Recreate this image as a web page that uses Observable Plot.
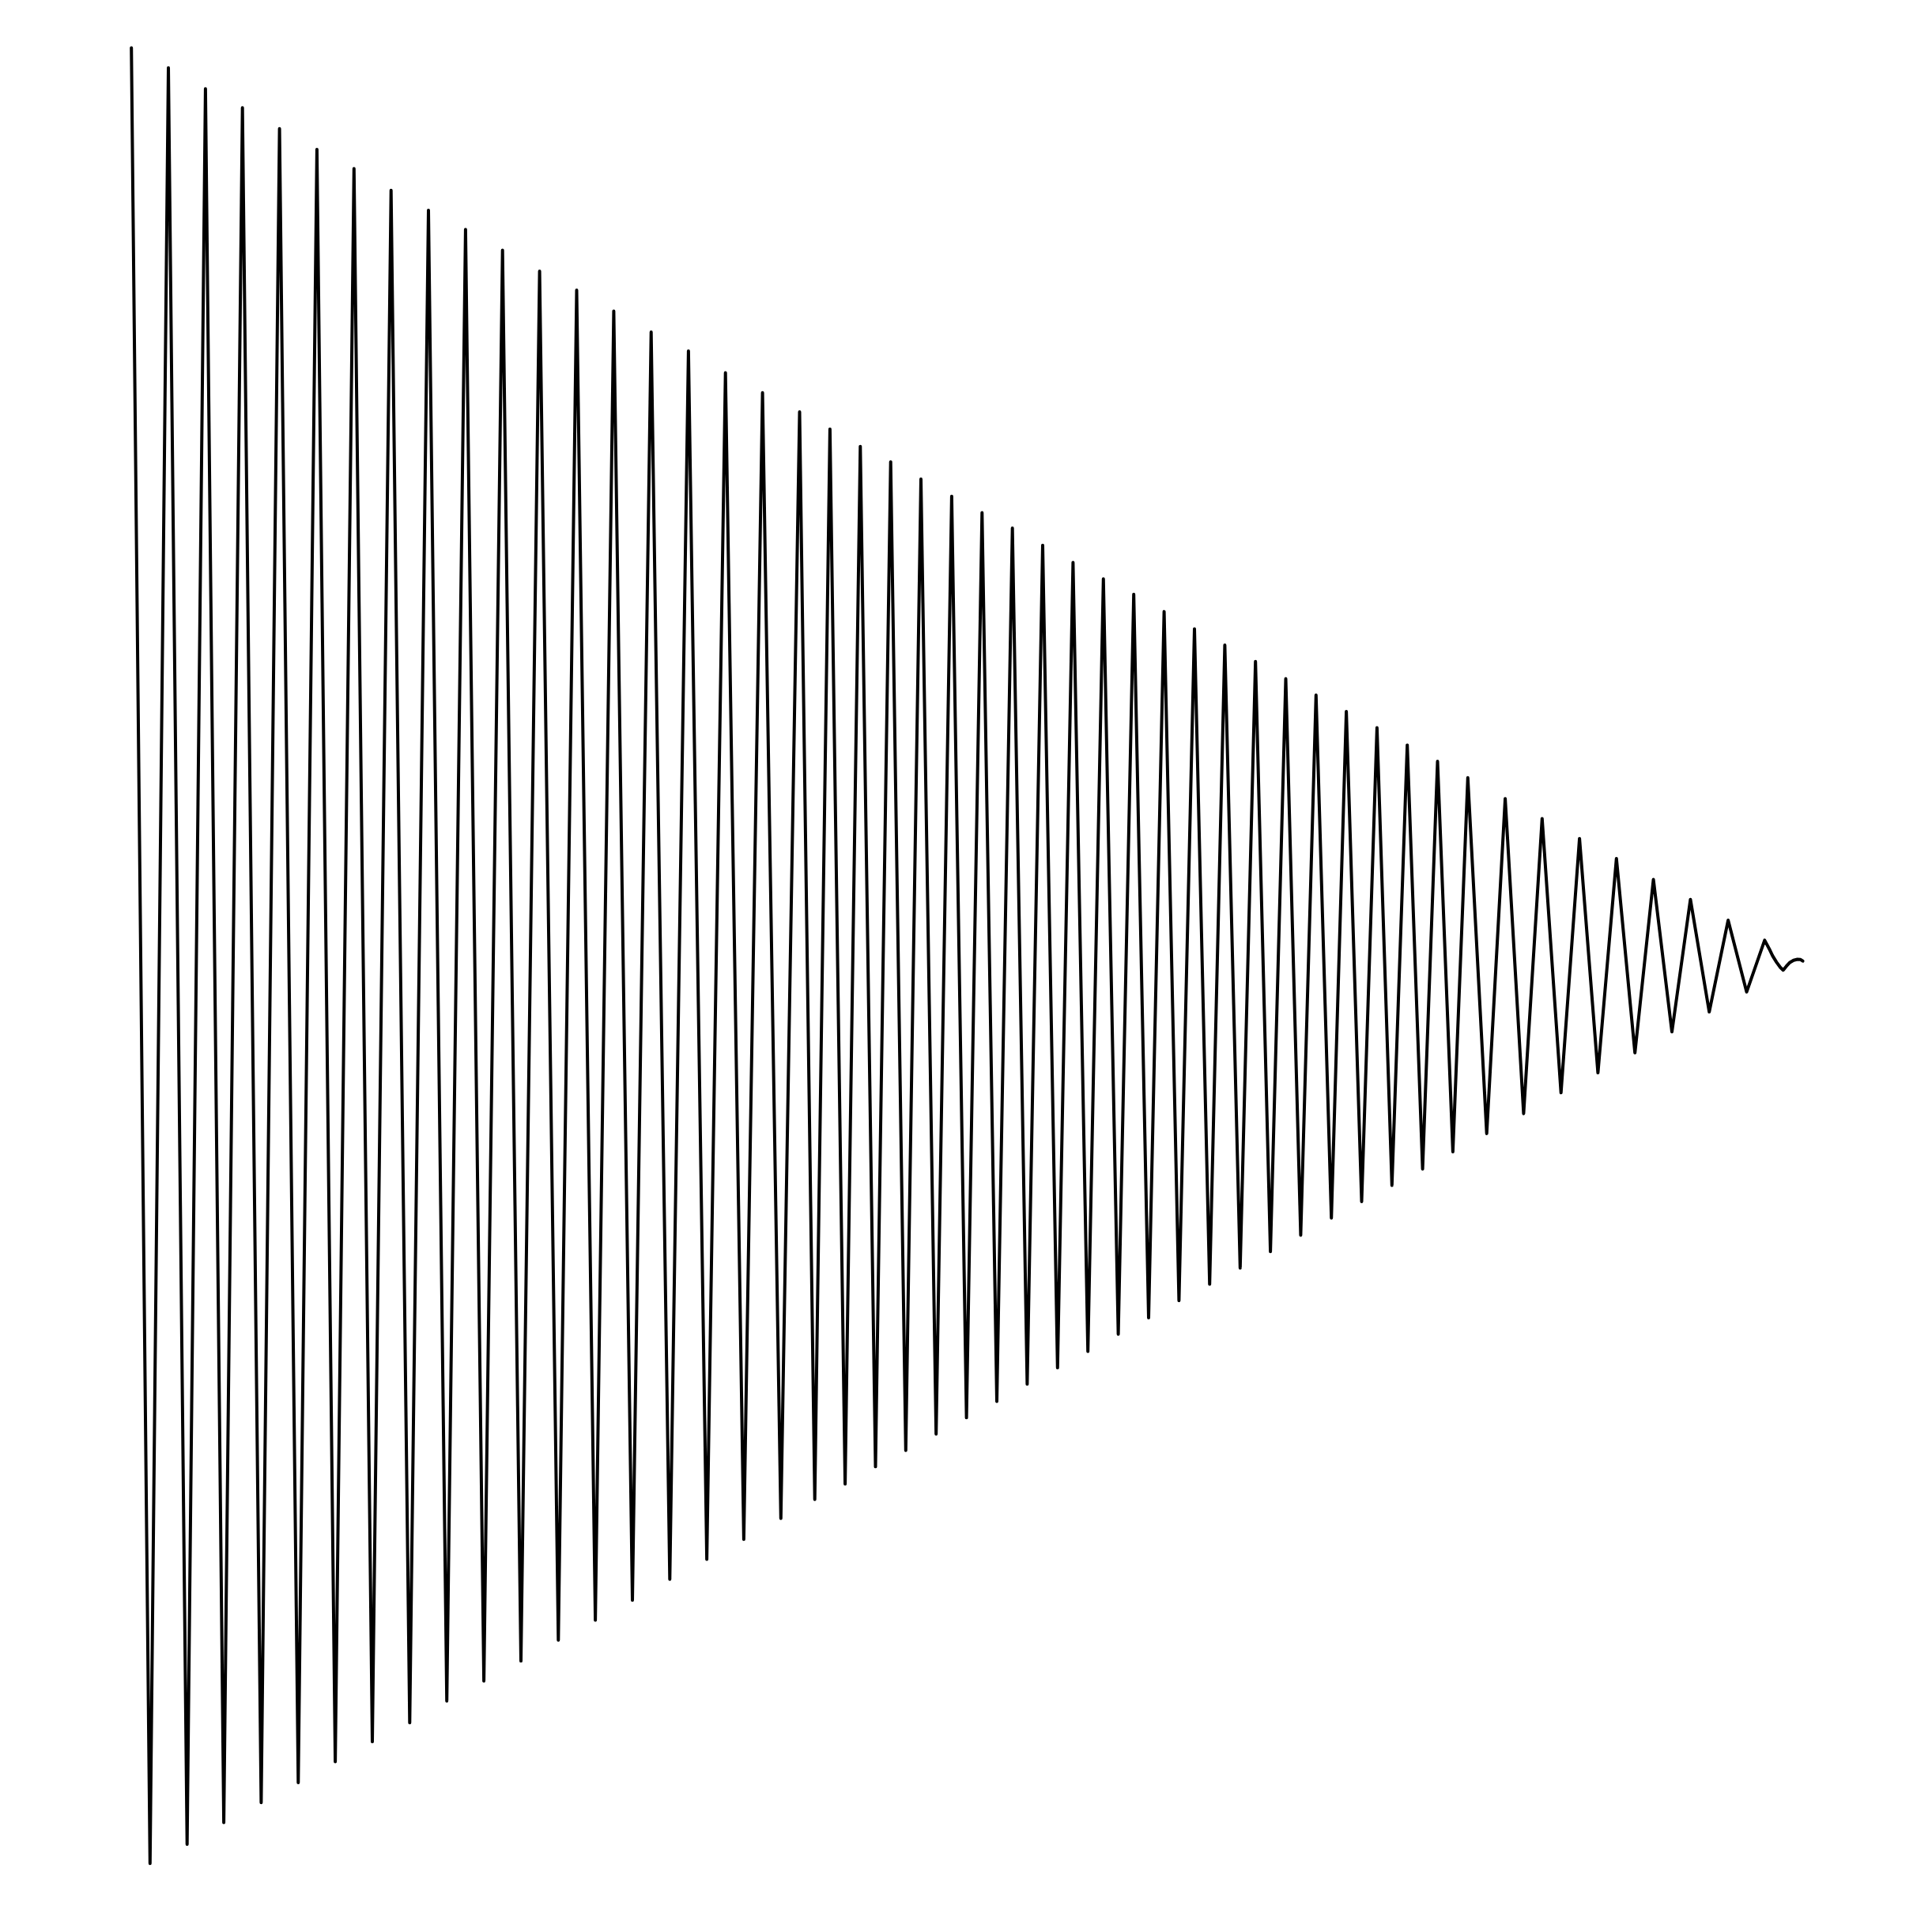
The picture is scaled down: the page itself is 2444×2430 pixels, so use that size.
<!DOCTYPE html>
<html>
<head>
<meta charset="utf-8">
<script src="https://cdn.jsdelivr.net/npm/d3@7"></script>
<script src="https://cdn.jsdelivr.net/npm/@observablehq/plot@0.6"></script>
<style>
  html, body { margin: 0; padding: 0; background: #fff; }
  #chart svg { display: block; }
</style>
</head>
<body>
<div id="chart"></div>
<script>
// Upper turning points (t, value)
const peakT = [0, 2.214, 4.432, 6.645, 8.863, 11.101, 13.319, 15.537, 17.774, 19.993,
  22.206, 24.424, 26.642, 28.861, 31.098, 33.330, 35.544, 37.762, 39.980, 41.796,
  43.612, 45.429, 47.240, 49.080, 50.896, 52.712, 54.524, 56.340, 58.156, 59.972,
  61.789, 63.605, 65.421, 67.256, 69.068, 70.879, 72.691, 74.526, 76.337, 78.149,
  79.960, 82.197, 84.406, 86.643, 88.852, 91.065, 93.279, 95.535, 97.720];
const peakV = [1.000, 0.978, 0.955, 0.934, 0.911, 0.888, 0.867, 0.843, 0.821, 0.800,
  0.777, 0.754, 0.733, 0.710, 0.687, 0.666, 0.642, 0.620, 0.599, 0.580,
  0.561, 0.544, 0.525, 0.506, 0.488, 0.471, 0.452, 0.433, 0.415, 0.398,
  0.379, 0.360, 0.342, 0.324, 0.305, 0.287, 0.269, 0.251, 0.232, 0.214,
  0.196, 0.173, 0.151, 0.129, 0.107, 0.084, 0.062, 0.039, 0.017];

// Lower turning points (t, value)
const troughT = [1.116, 3.334, 5.529, 7.766, 9.984, 12.198, 14.416, 16.653, 18.872, 21.090,
  23.308, 25.545, 27.759, 29.977, 32.214, 34.428, 36.641, 38.859, 40.888, 42.704,
  44.521, 46.332, 48.148, 49.965, 51.781, 53.597, 55.413, 57.229, 59.046, 60.862,
  62.678, 64.513, 66.339, 68.150, 69.962, 71.797, 73.608, 75.420, 77.255, 79.066,
  81.091, 83.299, 85.536, 87.745, 89.959, 92.172, 94.405, 96.642];
const troughV = [-1.000, -0.979, -0.955, -0.933, -0.911, -0.888, -0.866, -0.845, -0.821, -0.799,
  -0.777, -0.754, -0.732, -0.710, -0.687, -0.665, -0.643, -0.620, -0.599, -0.582,
  -0.563, -0.545, -0.527, -0.509, -0.491, -0.472, -0.454, -0.436, -0.417, -0.399,
  -0.380, -0.362, -0.344, -0.326, -0.308, -0.289, -0.271, -0.253, -0.235, -0.216,
  -0.196, -0.174, -0.151, -0.129, -0.107, -0.084, -0.062, -0.040];

// Final damped tail after the last peak
const tailT = [98.00, 98.19, 98.43, 98.66, 98.83, 99.02, 99.21, 99.45, 99.68, 99.87, 100.0];
const tailV = [0.0073, 0.000, -0.0072, -0.013, -0.016, -0.0116, -0.0078, -0.0051, -0.0040, -0.0043, -0.0060];

// Build the series: peak, trough, peak, trough, ..., then tail
const data = [];
for (let i = 0; i < peakT.length; i++) {
  data.push({t: peakT[i], v: peakV[i]});
  if (i < troughT.length) data.push({t: troughT[i], v: troughV[i]});
}
for (let i = 0; i < tailT.length; i++) data.push({t: tailT[i], v: tailV[i]});

const chart = Plot.plot({
  width: 2444,
  height: 2430,
  marginLeft: 165.7,
  marginRight: 164,
  marginTop: 60,
  marginBottom: 73.3,
  x: {domain: [0, 100], axis: null},
  y: {domain: [-1, 1], axis: null},
  marks: [
    Plot.line(data, {x: "t", y: "v", stroke: "black", strokeWidth: 4})
  ]
});
document.getElementById("chart").appendChild(chart);
</script>
</body>
</html>
